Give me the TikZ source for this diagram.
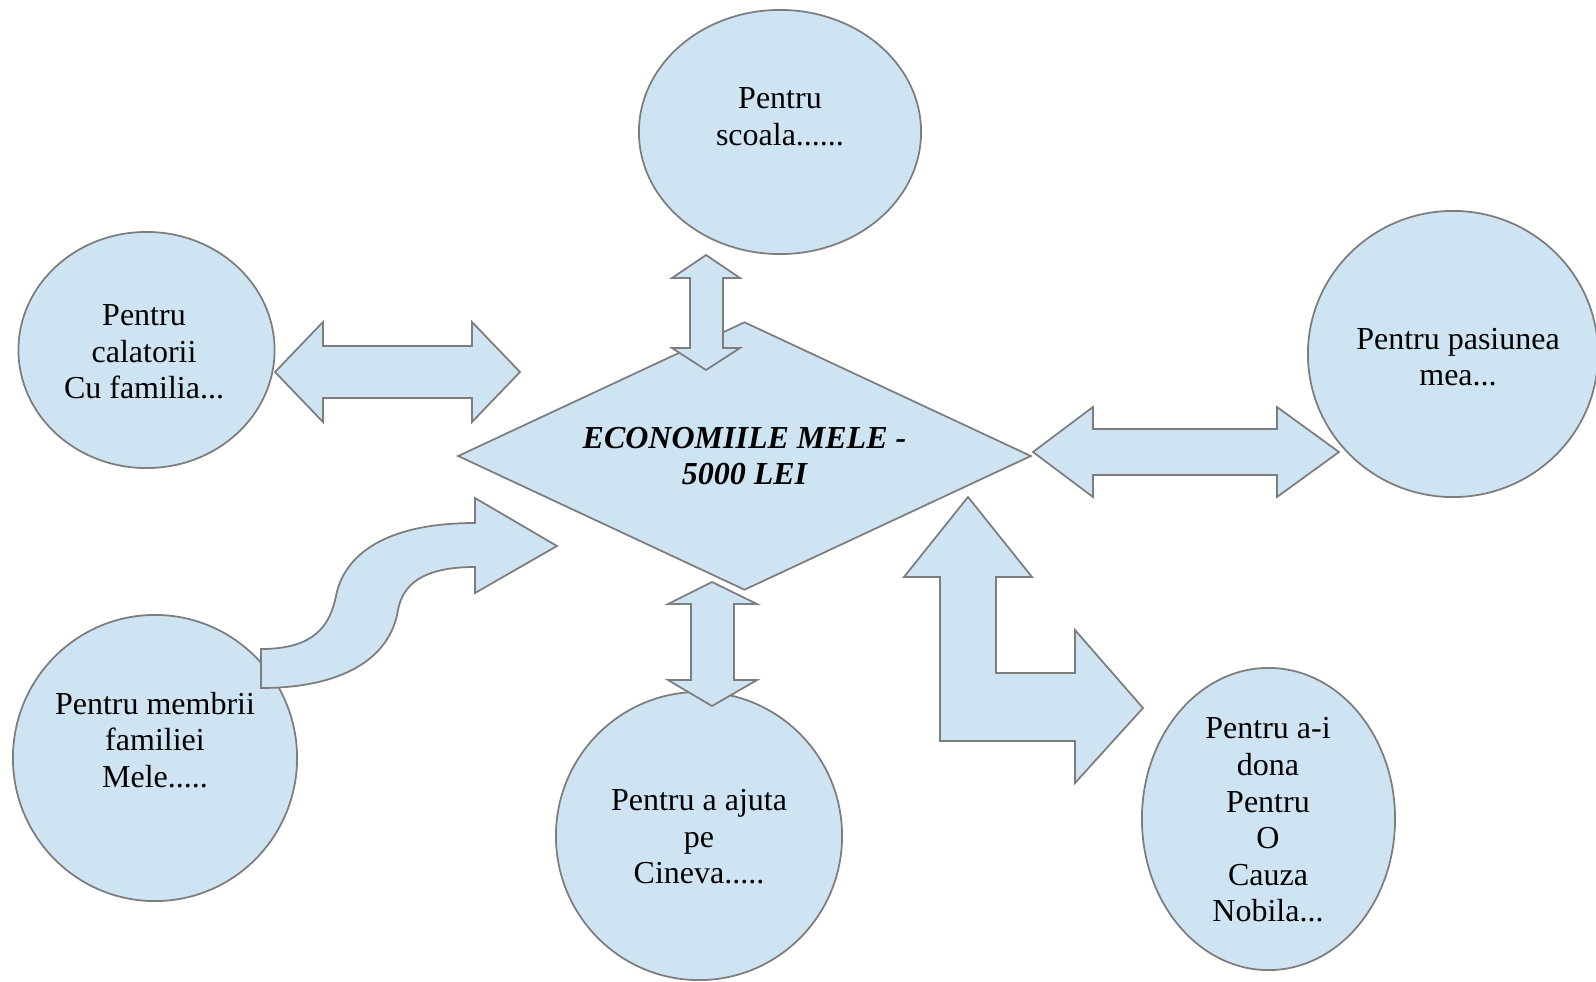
\documentclass[tikz,border=0pt]{standalone}
\usepackage{fontspec}
\setmainfont{Liberation Serif}
\usetikzlibrary{shapes.geometric}
\definecolor{bubbleblue}{RGB}{207,228,242}
\definecolor{rimgray}{RGB}{125,125,125}
\tikzset{
	bubble/.style={ellipse, fill=bubbleblue, draw=rimgray, line width=0.5pt, inner sep=0pt},
	rhomb/.style={diamond, fill=bubbleblue, draw=rimgray, line width=0.5pt, inner sep=0pt, shape aspect=2.14},
	blok/.style={fill=bubbleblue, draw=rimgray, line width=0.5pt, line join=miter},
	txt/.style={align=center, font=\fontsize{9.1}{10.4}\selectfont}
}

\begin{document}
\begin{tikzpicture}[x=0.01cm, y=-0.01cm]
					\useasboundingbox (0,0) rectangle (1596,981);
					\node[bubble, minimum width=2.82cm, minimum height=2.44cm] (sc) at (780,132) {};
					\node[bubble, minimum width=2.56cm, minimum height=2.36cm] (cal) at (146.5,350) {};
					\node[bubble, minimum width=2.90cm, minimum height=2.86cm] (pas) at (1453,354) {};
					\node[bubble, minimum width=2.84cm, minimum height=2.86cm] (mem) at (155,758) {};
					\node[bubble, minimum width=2.86cm, minimum height=2.88cm] (aj) at (699,836) {};
					\node[bubble, minimum width=2.53cm, minimum height=3.02cm] (don) at (1268.5,819) {};
					\node[txt] (sct) at (780,117) {Pentru\\scoala......};
					\node[txt] (calt) at (144,352) {Pentru\\calatorii\\Cu familia...};
					\node[txt] (past) at (1458,357) {Pentru pasiunea\\mea...};
					\node[txt] (memt) at (155,740) {Pentru membrii\\familiei\\Mele.....};
					\node[txt] (ajt) at (699,837) {Pentru a ajuta\\pe\\Cineva.....};
					\node[txt] (dont) at (1268,820) {Pentru a-i\\dona\\Pentru\\O\\Cauza\\Nobila...};
					\node[rhomb, txt, minimum width=5.73cm, minimum height=2.68cm] (econ) at (744.5,456) {\bfseries\itshape ECONOMIILE MELE -\\\bfseries\itshape 5000 LEI};
					\draw[blok] (275,372) -- (323,322) -- (323,346) -- (472,346) -- (472,322) -- (520,372) -- (472,422) -- (472,398) -- (323,398) -- (323,422) -- cycle;
					\draw[blok] (1033,452) -- (1093,407) -- (1093,429) -- (1277,429) -- (1277,407) -- (1339,452) -- (1277,497) -- (1277,475) -- (1093,475) -- (1093,497) -- cycle;
					\draw[blok] (706,255) -- (740,278) -- (723,278) -- (723,348) -- (740,348) -- (706,370) -- (672,348) -- (690,348) -- (690,278) -- (672,278) -- cycle;
					\draw[blok] (712,582) -- (757,604) -- (734,604) -- (734,680) -- (757,680) -- (712,706) -- (668,680) -- (691,680) -- (691,604) -- (668,604) -- cycle;
					\draw[blok] (968,497) -- (1032,577) -- (996,577) -- (996,673) -- (1075,673) -- (1075,630) -- (1143,708) -- (1075,783) -- (1075,741) -- (940,741) -- (940,577) -- (904,577) -- cycle;
					\draw[blok] (261,649) .. controls (315,649) and (330,625) .. (336,596) .. controls (344,555) and (385,523) .. (475,523) -- (475,498) -- (557,546) -- (475,593) -- (475,567) .. controls (425,567) and (403,583) .. (398,610) .. controls (390,660) and (340,688) .. (261,688) -- cycle;
				\end{tikzpicture}
\end{document}
